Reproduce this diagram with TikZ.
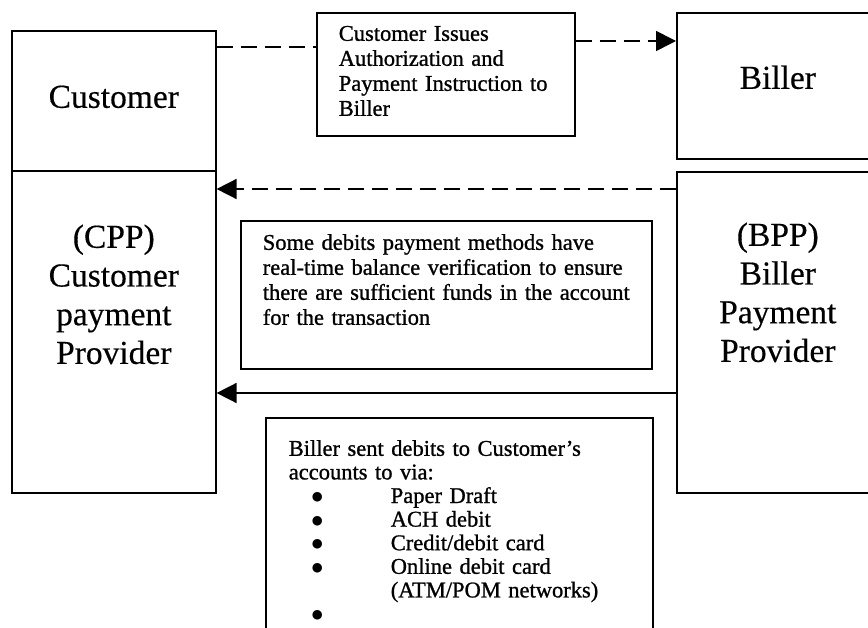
\documentclass[tikz,border=0pt]{standalone}
\usepackage{fontspec}
\setmainfont{Liberation Serif}
\newfontfamily\notefont{Liberation Serif}[Ligatures=TeX,FakeBold=1]
\newfontfamily\panelfont{Liberation Serif}[Ligatures=TeX,FakeBold=0.4]
\newfontfamily\dotfont{DejaVu Sans}
\usetikzlibrary{arrows.meta,positioning}
\tikzset{
    panel/.style={
        rectangle, draw, anchor=north west,
        inner xsep=0pt, inner ysep=0pt,
        align=center,
        font=\panelfont\fontsize{33.5}{38.7}\selectfont,
    },
    note/.style={
        rectangle, draw, anchor=north west,
        inner xsep=22pt, inner ysep=0pt,
        align=left,
        font=\notefont\fontsize{22.5}{25}\selectfont,
    },
    line/.style={
        draw, -{Triangle[length=20pt,width=20pt]},
    },
    dashline/.style={
        dash pattern=on 16pt off 8pt,
    },
}
\newcommand{\payitem}[1]{\hspace*{23pt}\makebox[79pt][l]{\raisebox{2.5pt}{\dotfont\fontsize{12.5}{0}\selectfont ●}}#1}
\newcommand{\paymore}[1]{\hspace*{102pt}#1}

\begin{document}
\begin{tikzpicture}[x=1pt,y=-1pt,line width=1.6pt]
                \clip (0,0) rectangle (868,628);
                % parties
                \node [panel, text width=204pt, text height=77pt, text depth=63pt] (customer) at (11,30) {Customer};
                \node [panel, text width=204pt, text height=77pt, text depth=245pt] (cpp) at (11,170) {(CPP)\\ Customer\\ payment\\ Provider};
                \node [panel, text width=202pt, text height=76pt, text depth=70pt] (biller) at (676,12) {Biller};
                \node [panel, text width=202pt, text height=74pt, text depth=247pt] (bpp) at (676,171) {(BPP)\\ Biller\\ Payment\\ Provider};
                % notes
                \node [note, text width=214pt, text height=28pt, text depth=95pt] (authnote) at (316,12)
                {Customer Issues\\ Authorization and\\ Payment Instruction to\\ Biller};
                \node [note, text width=367pt, text height=29pt, text depth=119pt] (checknote) at (240,220)
                {Some debits payment methods have\\ real-time balance verification to ensure\\ there are sufficient funds in the account\\ for the transaction};
                \node [note, inner xsep=23pt, text width=341pt, text height=38pt, text depth=300pt,
                       font=\notefont\fontsize{22.5}{23.6}\selectfont] (debitnote) at (265,417)
                {Biller sent debits to Customer's\\ accounts to via:\\
                 \payitem{Paper Draft}\\ \payitem{ACH debit}\\ \payitem{Credit/debit card}\\
                 \payitem{Online debit card}\\ \paymore{(ATM/POM networks)}\\ \payitem{}};
                % flows
                \coordinate (custtap) at ([yshift=-17pt]customer.north east);
                \draw[dashline] (custtap) -- (custtap -| authnote.west);
                \coordinate (authtap) at ([yshift=-29pt]authnote.north east);
                \draw[line,dashline] (authtap) -- (authtap -| biller.west);
                \coordinate (bpptap) at ([yshift=-18pt]bpp.north west);
                \draw[line,dashline] (bpptap) -- (bpptap -| cpp.east);
                \coordinate (bpplow) at ([yshift=-222pt]bpp.north west);
                \draw[line] (bpplow) -- (bpplow -| cpp.east);
            \end{tikzpicture}
\end{document}
